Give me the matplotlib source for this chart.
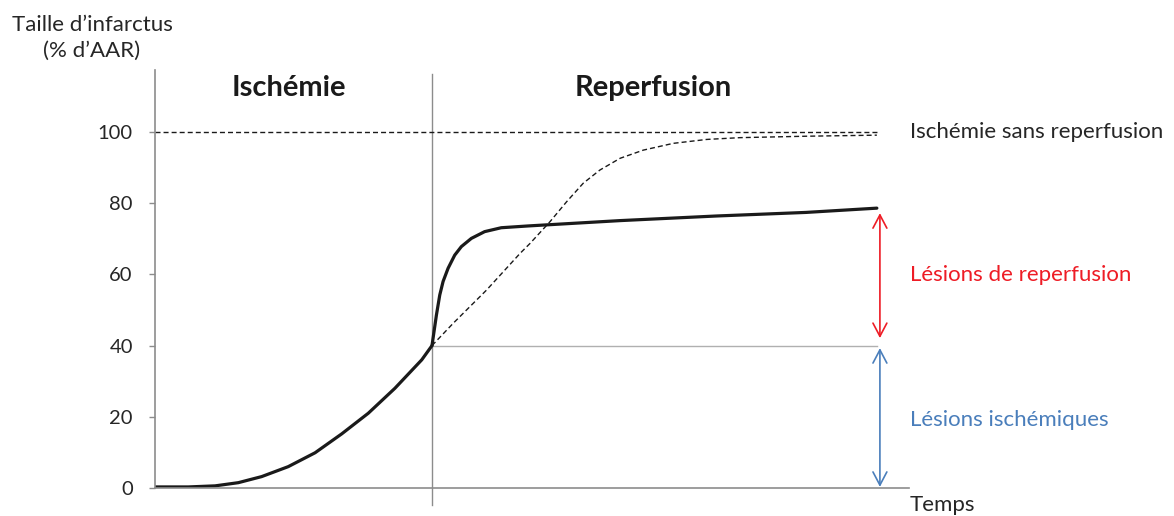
import numpy as np
import matplotlib.pyplot as plt

plt.rcParams['font.family'] = ['Lato', 'DejaVu Sans']

# ischemic phase (time in units where reperfusion starts at t=1)
t_isch = [0, 0.12, 0.217, 0.301, 0.385, 0.481, 0.578, 0.674, 0.77, 0.866, 0.963, 1.0]
y_isch = [0.3, 0.3, 0.6, 1.5, 3.2, 6.0, 9.9, 15.2, 21.0, 28.0, 36.0, 40.0]

# with reperfusion
t_rep = [1.0, 1.016, 1.028, 1.040, 1.058, 1.082, 1.106, 1.142, 1.190, 1.250,
         1.347, 1.413, 1.679, 2.028, 2.35, 2.606]
y_rep = [40.0, 48.6, 54.2, 58.0, 61.7, 65.4, 67.8, 70.1, 72.0, 73.1,
         73.6, 73.9, 75.1, 76.4, 77.4, 78.6]

# ischemia without reperfusion
t_norep = [1.0, 1.077, 1.197, 1.318, 1.354, 1.426, 1.486, 1.546, 1.606, 1.679,
           1.763, 1.871, 1.992, 2.112, 2.35, 2.606]
y_norep = [40.0, 46.3, 55.6, 65.9, 68.7, 74.8, 80.4, 85.6, 89.3, 92.6,
           94.9, 96.8, 97.9, 98.4, 98.8, 99.1]

yticks = [0, 20, 40, 60, 80, 100]
t_end = 2.606
lesion_rep = (77.2, 42.1)
lesion_isch = (39.3, 0.3)

fig = plt.figure(figsize=(11.74, 5.16), dpi=100)
ax = fig.add_axes([155/1174, 28/516, (909-155)/1174, (488-70)/516])
ax.set_xlim(0, (909-155)/277)
ax.set_ylim(0, 117.4)

gray = '#8c8c8c'
for s in ['top', 'right']:
    ax.spines[s].set_visible(False)
for s in ['left', 'bottom']:
    ax.spines[s].set_color(gray)
    ax.spines[s].set_linewidth(1.2)
ax.set_xticks([])
ax.set_yticks(yticks)
ax.tick_params(axis='y', length=4, width=1.0, color=gray, pad=12,
               labelsize=14.5, labelcolor='#262626')

# separator between phases
ax.plot([1, 1], [-4.8, 116.3], color=gray, lw=1.0, clip_on=False)
# 40% reference line
ax.plot([1, t_end], [40, 40], color='#b0b0b0', lw=1.0)
# 100% dashed line
ax.plot([0, t_end], [100, 100], color='#1a1a1a', lw=1.0, dashes=(3.6, 2.2))

ax.plot(t_norep, y_norep, color='#1a1a1a', lw=1.0, dashes=(3.6, 2.2))
ax.plot(t_isch, y_isch, color='#1a1a1a', lw=2.3, solid_capstyle='round', solid_joinstyle='round')
ax.plot(t_rep, y_rep, color='#1a1a1a', lw=2.3, solid_capstyle='round', solid_joinstyle='round')

ax_x = 2.617
ax.annotate('', xy=(ax_x, lesion_rep[0]), xytext=(ax_x, lesion_rep[1]),
            arrowprops=dict(arrowstyle='<->,head_length=0.95,head_width=0.5',
                            color='#ee1c25', lw=1.2, mutation_scale=10,
                            shrinkA=0, shrinkB=0))
ax.annotate('', xy=(ax_x, lesion_isch[0]), xytext=(ax_x, lesion_isch[1]),
            arrowprops=dict(arrowstyle='<->,head_length=0.95,head_width=0.5',
                            color='#4a7ebb', lw=1.2, mutation_scale=10,
                            shrinkA=0, shrinkB=0))

# labels
def px(x, y):
    return x / 1174, 1 - y / 516

fig.text(*px(289, 88), 'Ischémie', fontsize=21, fontweight='bold', color='#1a1a1a',
         ha='center', va='center')
fig.text(*px(653, 88), 'Reperfusion', fontsize=21, fontweight='bold', color='#1a1a1a',
         ha='center', va='center')
fig.text(*px(92, 38), 'Taille d\u2019infarctus\n(% d\u2019AAR)', fontsize=16, color='#262626',
         ha='center', va='center', multialignment='center', linespacing=1.35)
fig.text(*px(910, 132), 'Ischémie sans reperfusion', fontsize=16, color='#262626', va='center')
fig.text(*px(910, 275), 'Lésions de reperfusion', fontsize=16, color='#ee1c25', va='center')
fig.text(*px(910, 420), 'Lésions ischémiques', fontsize=16, color='#4a7ebb', va='center')
fig.text(*px(910, 505), 'Temps', fontsize=16, color='#262626', va='center')

fig.savefig('out.png', dpi=100)
